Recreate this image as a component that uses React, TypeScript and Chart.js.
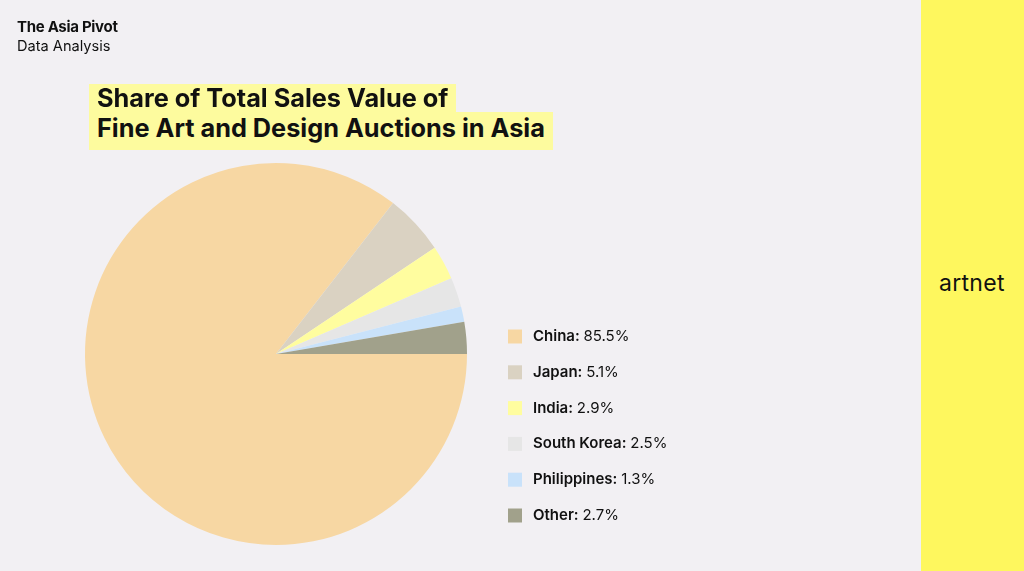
import React, { useEffect, useRef } from "react";
import { Chart, registerables } from "chart.js";

Chart.register(...registerables);

const categories = ["China", "Japan", "India", "South Korea", "Philippines", "Other"];
const shares = [85.5, 5.1, 2.9, 2.5, 1.3, 2.7];
const colors = ["#f7d7a3", "#dad2c2", "#fffd9f", "#e6e6e6", "#c9e2fa", "#a1a18b"];

const FONT = "Inter, 'Liberation Sans', Arial, sans-serif";

const legendPlugin = {
  id: "customLegend",
  afterDraw(chart: any) {
    const ctx = chart.ctx;
    const labels = chart.data.labels as string[];
    const ds = chart.data.datasets[0];
    const x0 = 508;
    const y0 = 336.5;
    const step = 35.8;
    ctx.save();
    ctx.textBaseline = "middle";
    labels.forEach((lab, i) => {
      const y = y0 + i * step;
      ctx.fillStyle = ds.backgroundColor[i];
      ctx.fillRect(x0, y - 7, 14, 14);
      ctx.fillStyle = "#111111";
      ctx.font = `600 15px ${FONT}`;
      const bold = lab + ":";
      ctx.fillText(bold, 533, y);
      const w = ctx.measureText(bold + " ").width;
      ctx.font = `400 15px ${FONT}`;
      ctx.fillText(ds.data[i].toFixed(1) + "%", 533 + w, y);
    });
    ctx.restore();
  },
};

export default function App() {
  const ref = useRef<HTMLCanvasElement | null>(null);
  useEffect(() => {
    document.body.style.margin = "0";
    document.body.style.background = "#f2f0f3";
    const chart = new Chart(ref.current as HTMLCanvasElement, {
      type: "pie",
      data: {
        labels: categories,
        datasets: [
          {
            data: shares,
            backgroundColor: colors,
            borderWidth: 0,
          },
        ],
      },
      options: {
        responsive: false,
        animation: false,
        rotation: 90,
        layout: { padding: { left: 85, top: 163, right: 557, bottom: 26 } },
        plugins: {
          legend: { display: false },
          tooltip: { enabled: false },
          title: { display: false },
        },
      },
      plugins: [legendPlugin],
    });
    return () => chart.destroy();
  }, []);

  const titleStyle: React.CSSProperties = {
    position: "absolute",
    left: 89,
    background: "#fdfb9e",
    padding: "0 8px",
    fontSize: 25.3,
    fontWeight: 700,
    letterSpacing: 0,
    whiteSpace: "nowrap",
  };

  return (
    <div
      style={{
        position: "relative",
        width: 1024,
        height: 571,
        background: "#f2f0f3",
        overflow: "hidden",
        fontFamily: FONT,
        color: "#111",
      }}
    >
      <canvas ref={ref} width={1024} height={571} style={{ position: "absolute", left: 0, top: 0 }} />
      <div style={{ position: "absolute", left: 17, top: 17, fontSize: 15, fontWeight: 700, letterSpacing: -0.3 }}>
        The Asia Pivot
      </div>
      <div style={{ position: "absolute", left: 17, top: 37, fontSize: 14.6, fontWeight: 400 }}>Data Analysis</div>
      <div style={{ ...titleStyle, top: 84, height: 28, lineHeight: "28px" }}>Share of Total Sales Value of</div>
      <div style={{ ...titleStyle, top: 112, height: 38, lineHeight: "32px" }}>
        Fine Art and Design Auctions in Asia
      </div>
      <div style={{ position: "absolute", left: 921, top: 0, width: 103, height: 571, background: "#fef75e" }} />
      <div style={{ position: "absolute", left: 939, top: 269, fontSize: 23, fontWeight: 400, letterSpacing: 0.3 }}>
        artnet
      </div>
    </div>
  );
}
